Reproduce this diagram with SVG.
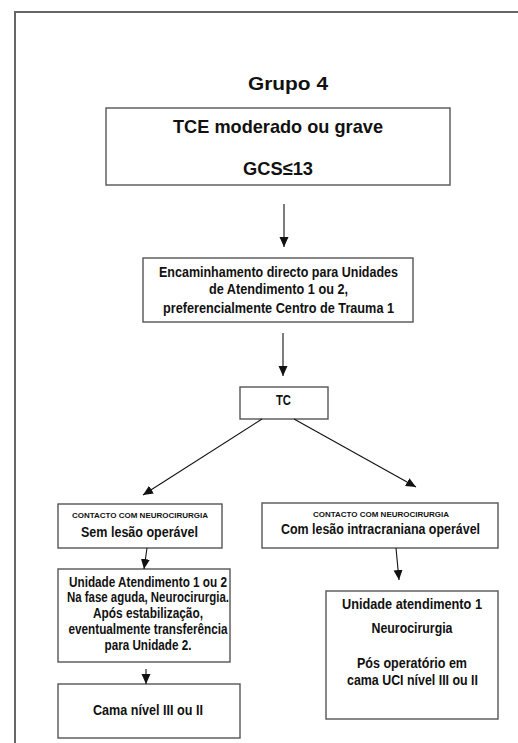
<svg xmlns="http://www.w3.org/2000/svg" width="518" height="743" viewBox="0 0 518 743">
<style>
.box{fill:#fff;stroke:#555;stroke-width:1.4}
.t{font-family:"Liberation Sans",Arial,sans-serif;font-weight:bold;fill:#111;text-anchor:middle}
.s14{font-size:14px}
.s19{font-size:19px}
.s8{font-size:8px}
.c{stroke:#111;stroke-width:1.1;fill:none;marker-end:url(#ah)}
</style>
<defs>
<marker id="ah" markerUnits="userSpaceOnUse" markerWidth="10" markerHeight="10" viewBox="0 0 10 10" refX="10" refY="5" orient="auto">
<path d="M0,0.5 L10,5 L0,9.5 z" fill="#111"/>
</marker>
</defs>
<rect x="0" y="0" width="518" height="743" fill="#fff"/>
<path d="M15,760 L15,12 L530,12" fill="none" stroke="#666" stroke-width="2"/>
<text class="t s19" x="288" y="90" textLength="80" lengthAdjust="spacingAndGlyphs">Grupo 4</text>
<g id="n1">
<rect class="box" x="106" y="108" width="344" height="77"/>
<text class="t s19" x="278" y="133" textLength="210" lengthAdjust="spacingAndGlyphs">TCE moderado ou grave</text>
<text class="t s19" x="278" y="175" textLength="70" lengthAdjust="spacingAndGlyphs">GCS≤13</text>
</g>
<g id="n2">
<rect class="box" x="143" y="258" width="270" height="64"/>
<text class="t s14" x="278.5" y="277" textLength="239" lengthAdjust="spacingAndGlyphs">Encaminhamento directo para Unidades</text>
<text class="t s14" x="278.5" y="294" textLength="139" lengthAdjust="spacingAndGlyphs">de Atendimento 1 ou 2,</text>
<text class="t s14" x="278.5" y="313" textLength="231" lengthAdjust="spacingAndGlyphs">preferencialmente Centro de Trauma 1</text>
</g>
<g id="n3">
<rect class="box" x="240" y="387" width="88" height="32"/>
<text class="t s14" x="283.5" y="405" textLength="15" lengthAdjust="spacingAndGlyphs">TC</text>
</g>
<g id="n4">
<rect class="box" x="58" y="504" width="164" height="44"/>
<text class="t s8" x="140" y="518" textLength="136" lengthAdjust="spacingAndGlyphs">CONTACTO COM NEUROCIRURGIA</text>
<text class="t s14" x="139.5" y="537" textLength="117" lengthAdjust="spacingAndGlyphs">Sem lesão operável</text>
</g>
<g id="n5">
<rect class="box" x="58" y="569" width="172" height="93"/>
<text class="t s14" x="148" y="587" textLength="158" lengthAdjust="spacingAndGlyphs">Unidade Atendimento 1 ou 2</text>
<text class="t s14" x="148" y="602" textLength="162" lengthAdjust="spacingAndGlyphs">Na fase aguda, Neurocirurgia.</text>
<text class="t s14" x="148" y="618" textLength="110" lengthAdjust="spacingAndGlyphs">Após estabilização,</text>
<text class="t s14" x="148" y="634" textLength="159" lengthAdjust="spacingAndGlyphs">eventualmente transferência</text>
<text class="t s14" x="148" y="650" textLength="87" lengthAdjust="spacingAndGlyphs">para Unidade 2.</text>
</g>
<g id="n6">
<rect class="box" x="58" y="684" width="182" height="54"/>
<text class="t s14" x="148" y="715" textLength="110" lengthAdjust="spacingAndGlyphs">Cama nível III ou II</text>
</g>
<g id="n7">
<rect class="box" x="262" y="503" width="236" height="45"/>
<text class="t s8" x="381" y="517" textLength="136" lengthAdjust="spacingAndGlyphs">CONTACTO COM NEUROCIRURGIA</text>
<text class="t s14" x="380.5" y="534" textLength="199" lengthAdjust="spacingAndGlyphs">Com lesão intracraniana operável</text>
</g>
<g id="n8">
<rect class="box" x="326" y="591" width="172" height="128"/>
<text class="t s14" x="412" y="609" textLength="140" lengthAdjust="spacingAndGlyphs">Unidade atendimento 1</text>
<text class="t s14" x="412" y="633" textLength="81" lengthAdjust="spacingAndGlyphs">Neurocirurgia</text>
<text class="t s14" x="412" y="668" textLength="110" lengthAdjust="spacingAndGlyphs">Pós operatório em</text>
<text class="t s14" x="412.5" y="685" textLength="131" lengthAdjust="spacingAndGlyphs">cama UCI nível III ou II</text>
</g>
<g id="connectors">
<line class="c" x1="284" y1="204" x2="284" y2="247"/>
<line class="c" x1="283" y1="333" x2="283" y2="376"/>
<line class="c" x1="262" y1="419" x2="143" y2="495"/>
<line class="c" x1="294" y1="419" x2="416" y2="487"/>
<line class="c" x1="147" y1="548" x2="144" y2="569"/>
<line class="c" x1="146" y1="669" x2="146" y2="684"/>
<line class="c" x1="396" y1="548" x2="399" y2="580"/>
</g>
</svg>
